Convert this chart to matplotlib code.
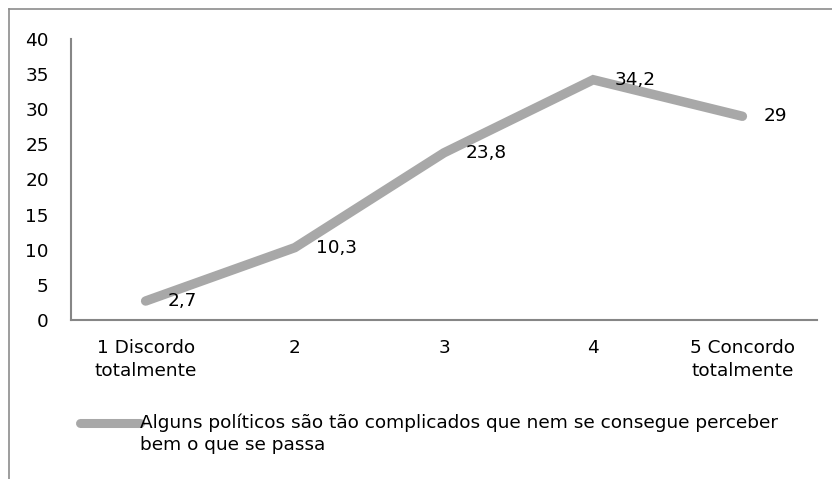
import matplotlib.pyplot as plt
from matplotlib.lines import Line2D

# data
categories = ['1 Discordo\ntotalmente', '2', '3', '4', '5 Concordo\ntotalmente']
values = [2.7, 10.3, 23.8, 34.2, 29]
value_labels = ['2,7', '10,3', '23,8', '34,2', '29']
y_ticks = [0, 5, 10, 15, 20, 25, 30, 35, 40]
series_name = ('Alguns políticos são tão complicados que nem se consegue perceber\n'
               'bem o que se passa')

plt.rcParams['font.family'] = ['DejaVu Sans']
line_color = '#a8a8a8'
axis_color = '#868686'
fs = 13.3

W, H = 832, 479
fig = plt.figure(figsize=(W / 100, H / 100), dpi=100)
ax = fig.add_axes([71 / W, 1 - 320 / H, (817 - 71) / W, (320 - 39) / H])

x = list(range(len(categories)))
ax.plot(x, values, color=line_color, lw=6.8, solid_capstyle='round',
        solid_joinstyle='miter', label=series_name)

for xi, v, lab in zip(x, values, value_labels):
    ax.annotate(lab, (xi, v), xytext=(15.5, 0), textcoords='offset points',
                ha='left', va='center', fontsize=fs, color='black')

ax.set_xlim(-0.5, len(categories) - 0.5)
ax.set_ylim(0, 40)
ax.set_yticks(y_ticks)
ax.set_yticklabels([str(t) for t in y_ticks], fontsize=fs)
ax.set_xticks(x)
ax.set_xticklabels(categories, fontsize=fs, linespacing=1.3)
ax.tick_params(axis='both', length=0)
ax.tick_params(axis='y', pad=16)
ax.tick_params(axis='x', pad=14)

for side in ['top', 'right']:
    ax.spines[side].set_visible(False)
for side in ['left', 'bottom']:
    ax.spines[side].set_color(axis_color)
    ax.spines[side].set_linewidth(1.5)

# legend below the plot
leg_line = Line2D([80 / W, 140 / W], [1 - 423 / H, 1 - 423 / H],
                  transform=fig.transFigure, color=line_color, lw=6.5,
                  solid_capstyle='round')
fig.add_artist(leg_line)
fig.text(140 / W, 1 - 413 / H, series_name, ha='left', va='top',
         fontsize=fs, linespacing=1.35)

# chart frame (top and left edges visible)
frame_color = '#8c8c8c'
fig.add_artist(Line2D([9 / W, 1], [1 - 9 / H, 1 - 9 / H],
                      transform=fig.transFigure, color=frame_color, lw=1.2))
fig.add_artist(Line2D([9 / W, 9 / W], [1 - 9 / H, 0],
                      transform=fig.transFigure, color=frame_color, lw=1.2))

fig.savefig('out.png', dpi=100, facecolor='white')
